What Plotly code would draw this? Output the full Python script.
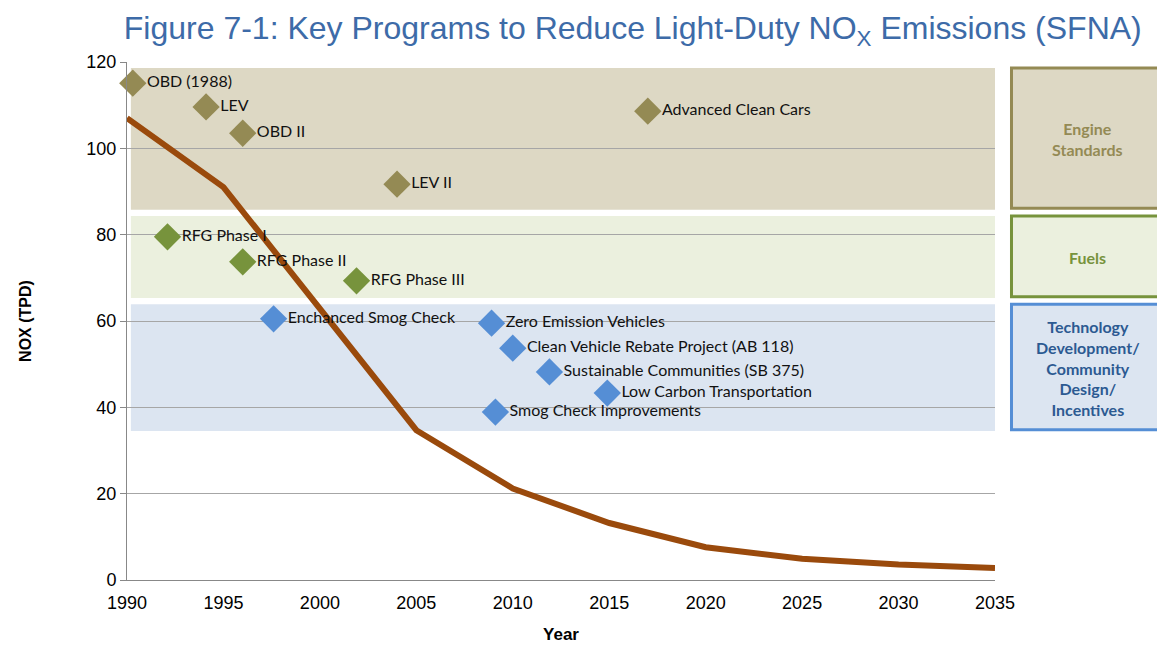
import plotly.graph_objects as go

# NOx trend (TPD)
years = [1990, 1995, 2005, 2010, 2015, 2020, 2025, 2030, 2035]
nox = [107, 91, 34.7, 21.2, 13.2, 7.6, 4.9, 3.6, 2.8]

# program milestones
engine_names = ["OBD (1988)", "LEV", "OBD II", "LEV II", "Advanced Clean Cars"]
engine_x = [1990.3, 1994.1, 1996.0, 2004.0, 2017.0]
engine_y = [115.1, 109.6, 103.5, 91.7, 108.6]

fuel_names = ["RFG Phase I", "RFG Phase II", "RFG Phase III"]
fuel_x = [1992.1, 1996.0, 2001.9]
fuel_y = [79.5, 73.7, 69.3]

tech_names = ["Enchanced Smog Check", "Zero Emission Vehicles",
              "Clean Vehicle Rebate Project (AB 118)",
              "Sustainable Communities (SB 375)",
              "Low Carbon Transportation", "Smog Check Improvements"]
tech_x = [1997.6, 2008.9, 2010.0, 2011.9, 2014.9, 2009.1]
tech_y = [60.5, 59.5, 53.7, 48.2, 43.3, 38.9]

# category bands (NOx range)
band_names = ["Engine<br>Standards", "Fuels",
              "Technology<br>Development/<br>Community<br>Design/<br>Incentives"]
band_lo = [85.8, 65.3, 34.5]
band_hi = [118.6, 84.3, 63.9]
band_fill = ["#ddd8c4", "#ebf0de", "#dce5f1"]
band_edge = ["#948a54", "#77933c", "#558ed5"]
band_text = ["#948a54", "#77933c", "#2c5a92"]

fig = go.Figure()

for lo, hi, fill, edge, name, tcol in zip(band_lo, band_hi, band_fill, band_edge, band_names, band_text):
    fig.add_shape(type="rect", xref="x", yref="y", x0=1990.2, x1=2035, y0=lo, y1=hi,
                  fillcolor=fill, line=dict(width=0), layer="below")
    fig.add_shape(type="rect", xref="paper", yref="y", x0=1.019, x1=1.2, y0=lo + 0.3, y1=hi,
                  fillcolor=fill, line=dict(color=edge, width=3), layer="below")
    fig.add_annotation(xref="paper", yref="y", x=1.107, y=(lo + hi) / 2, text="<b>" + name + "</b>",
                       xanchor="center", yanchor="middle", showarrow=False,
                       font=dict(family="Lato", size=16, color=tcol))

fig.add_trace(go.Scatter(x=years, y=nox, mode='lines', line=dict(color="#9a4a0c", width=6),
                         showlegend=False, hoverinfo="skip"))

for names, xs, ys, col in [(engine_names, engine_x, engine_y, "#948a54"),
                           (fuel_names, fuel_x, fuel_y, "#77933c"),
                           (tech_names, tech_x, tech_y, "#558ed5")]:
    fig.add_trace(go.Scatter(x=xs, y=ys, mode='markers+text', text=names, textposition="middle right",
                             marker=dict(symbol="diamond", size=21, color=col),
                             textfont=dict(family="Lato", size=16, color="#111111"),
                             showlegend=False, cliponaxis=False))

fig.update_layout(
    width=1157, height=637,
    margin=dict(l=119, r=170, t=54, b=65),
    paper_bgcolor="white", plot_bgcolor="white",
    title=dict(text="Figure 7-1: Key Programs to Reduce Light-Duty NO<sub>X</sub> Emissions (SFNA)",
               x=0.54, xanchor="center", y=0.969, yanchor="middle",
               font=dict(family="Liberation Sans, Arial", size=32, color="#3d6ba8")),
    xaxis=dict(range=[1990, 2035], tickmode="array", tickvals=list(range(1990, 2036, 5)),
               showgrid=False, showline=True, linecolor="#888888", linewidth=1,
               ticks="", ticklabelstandoff=6,
               tickfont=dict(family="Liberation Sans, Arial", size=18, color="black"),
               automargin=False,
               title=dict(text="<b>Year</b>", font=dict(family="Liberation Sans, Arial", size=17, color="black"),
                          standoff=16)),
    yaxis=dict(range=[0, 120], tickvals=list(range(0, 121, 20)),
               showgrid=True, gridcolor="#a6a6a6", gridwidth=1,
               showline=True, linecolor="#888888", linewidth=1,
               ticks="outside", ticklen=6, tickcolor="#888888",
               tickfont=dict(family="Liberation Sans, Arial", size=18, color="black"),
               automargin=False,
               title=dict(text="<b>NOX (TPD)</b>", font=dict(family="Liberation Sans, Arial", size=16, color="black"),
                          standoff=50)),
    font=dict(family="Liberation Sans, Arial", color="black"),
)

fig.write_html("out.html")
